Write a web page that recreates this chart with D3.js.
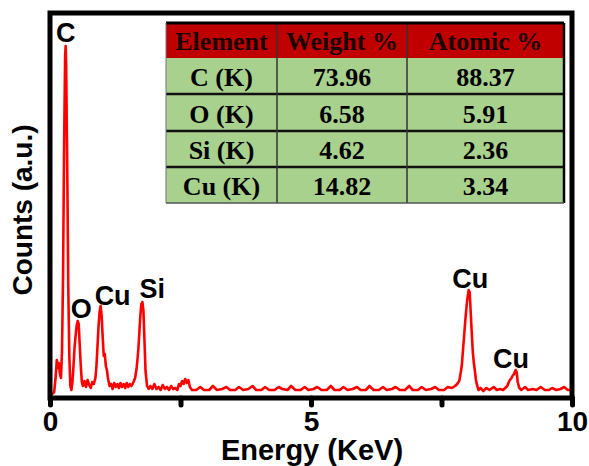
<!DOCTYPE html>
<meta charset="utf-8">
<style>
    body { margin: 0; background: #fff; overflow: hidden; }
    text { font-family: "Liberation Sans", Arial, sans-serif; font-weight: bold; }
    .tbl text { font-family: "Liberation Serif", "Times New Roman", serif; font-weight: bold; font-size: 26px; }
</style>
<svg id="canvas" width="589" height="466"></svg>
<script src="https://d3js.org/d3.v7.min.js"></script>
<script>

    // EDX spectrum, energy (keV) vs counts (a.u.)
    var energy = [0.00, 0.04, 0.08, 0.11, 0.13, 0.15, 0.17, 0.19, 0.21, 0.23, 0.25, 0.27, 0.29, 0.30, 0.31, 0.33, 0.35, 0.37, 0.39, 0.41,
                  0.43, 0.45, 0.47, 0.49, 0.51, 0.53, 0.55, 0.57, 0.59, 0.61, 0.63, 0.66, 0.69, 0.72, 0.75, 0.78, 0.81, 0.84, 0.87, 0.89,
                  0.91, 0.93, 0.95, 0.97, 0.99, 1.01, 1.03, 1.05, 1.07, 1.09, 1.11, 1.14, 1.17, 1.20, 1.23, 1.26, 1.29, 1.32, 1.35, 1.38,
                  1.41, 1.44, 1.47, 1.50, 1.53, 1.56, 1.60, 1.63, 1.66, 1.69, 1.71, 1.73, 1.75, 1.77, 1.79, 1.81, 1.83, 1.86, 1.89, 1.92,
                  1.96, 2.00, 2.04, 2.08, 2.12, 2.16, 2.20, 2.24, 2.28, 2.32, 2.36, 2.40, 2.44, 2.47, 2.50, 2.53, 2.56, 2.59, 2.62, 2.65,
                  2.68, 2.72, 2.80, 2.88, 2.95, 3.05, 3.12, 3.20, 3.30, 3.38, 3.45, 3.55, 3.62, 3.70, 3.80, 3.88, 3.95, 4.05, 4.12, 4.20,
                  4.30, 4.38, 4.45, 4.55, 4.62, 4.70, 4.80, 4.88, 4.95, 5.05, 5.12, 5.20, 5.30, 5.38, 5.45, 5.55, 5.62, 5.70, 5.80, 5.88,
                  5.95, 6.05, 6.12, 6.20, 6.30, 6.38, 6.45, 6.55, 6.62, 6.70, 6.80, 6.88, 6.95, 7.05, 7.12, 7.20, 7.30, 7.38, 7.45, 7.55,
                  7.62, 7.70, 7.76, 7.80, 7.84, 7.87, 7.89, 7.91, 7.93, 7.96, 7.99, 8.02, 8.04, 8.06, 8.08, 8.10, 8.12, 8.14, 8.16, 8.18,
                  8.21, 8.25, 8.30, 8.36, 8.42, 8.50, 8.56, 8.62, 8.68, 8.72, 8.76, 8.79, 8.81, 8.84, 8.86, 8.89, 8.92, 8.94, 8.96, 8.99,
                  9.03, 9.10, 9.16, 9.25, 9.32, 9.40, 9.48, 9.56, 9.62, 9.70, 9.78, 9.85, 9.92, 10.00];

    var counts = [1, 2, 4, 20, 36, 28, 33, 22, 18, 45, 120, 250, 340, 350, 330, 230, 110, 40, 10, 6,
                  14, 30, 48, 60, 70, 75, 72, 50, 30, 14, 10, 15, 9, 16, 11, 8, 14, 12, 18, 30,
                  50, 70, 84, 90, 80, 58, 40, 42, 30, 26, 18, 10, 12, 7, 13, 9, 12, 8, 13, 9,
                  12, 8, 13, 9, 12, 10, 14, 18, 28, 45, 62, 80, 92, 94, 85, 55, 25, 10, 7, 10,
                  7, 12, 7, 9, 6, 11, 7, 9, 6, 10, 7, 8, 6, 12, 10, 15, 12, 17, 13, 16,
                  9, 6, 6, 9, 6, 6, 10, 6, 7, 9, 6, 6, 9, 6, 7, 10, 6, 6, 9, 6,
                  6, 9, 7, 6, 10, 6, 6, 9, 6, 7, 9, 6, 6, 10, 6, 6, 9, 6, 7, 9,
                  6, 6, 10, 6, 6, 9, 6, 7, 9, 6, 6, 10, 6, 6, 9, 6, 7, 9, 6, 6,
                  9, 8, 10, 12, 15, 24, 31, 45, 58, 78, 95, 106, 104, 83, 63, 44, 33, 25, 16, 11,
                  6, 8, 5, 8, 6, 9, 6, 7, 6, 8, 10, 14, 16, 18, 20, 22, 26, 24, 14, 8,
                  6, 9, 6, 7, 6, 9, 6, 6, 8, 6, 7, 9, 6, 6];

    // peak annotations
    var peakNames = ["C", "O", "Cu", "Si", "Cu", "Cu"];
    var peakEnergy = [0.30, 0.60, 1.20, 1.96, 8.05, 8.83];
    var peakCounts = [356, 80, 93, 100, 110, 30];

    // composition table
    var tableHeader = ["Element", "Weight %", "Atomic %"];
    var elements = ["C (K)", "O (K)", "Si (K)", "Cu (K)"];
    var weightPct = ["73.96", "6.58", "4.62", "14.82"];
    var atomicPct = ["88.37", "5.91", "2.36", "3.34"];

    var xTicks = [0, 2.5, 5, 7.5, 10];

    var svg = d3.select("#canvas");
    var plotL = 50, plotR = 572, plotT = 13, plotB = 398;

    var x = d3.scaleLinear().domain([0, 10]).range([plotL, plotR]);
    var y = d3.scaleLinear().domain([0, 385]).range([plotB, plotT]);

    var spectrum = energy.map(function(e, i) { return [e, counts[i]]; });

    var line = d3.line()
                 .x(function(d) { return x(d[0]); })
                 .y(function(d) { return y(d[1]) - 2; });

    svg.append("path")
       .datum(spectrum)
       .attr("fill", "none")
       .attr("stroke", "#ff0000")
       .attr("stroke-width", 2.6)
       .attr("stroke-linejoin", "round")
       .attr("d", line);

    // frame
    svg.append("rect")
       .attr("x", plotL).attr("y", plotT)
       .attr("width", plotR - plotL).attr("height", plotB - plotT)
       .attr("fill", "none")
       .attr("stroke", "#000")
       .attr("stroke-width", 5);

    var xAxis = d3.axisBottom(x)
                  .tickValues(xTicks)
                  .tickSize(7)
                  .tickPadding(6)
                  .tickFormat(function(d) { return d % 5 === 0 ? d : ""; });

    var gx = svg.append("g")
                .attr("transform", "translate(0," + plotB + ")")
                .call(xAxis);
    gx.select(".domain").remove();
    gx.selectAll(".tick line")
      .attr("stroke", "#000")
      .attr("stroke-width", 5)
      .attr("stroke-linecap", "round");
    gx.selectAll(".tick text")
      .attr("fill", "#000")
      .style("font-size", "28px")
      .style("font-family", "'Liberation Sans', Arial, sans-serif")
      .style("font-weight", "bold");

    svg.append("text")
       .attr("x", 312).attr("y", 460)
       .attr("text-anchor", "middle")
       .style("font-size", "29px")
       .text("Energy (KeV)");

    svg.append("text")
       .attr("transform", "translate(32,210) rotate(-90)")
       .attr("text-anchor", "middle")
       .style("font-size", "28px")
       .text("Counts (a.u.)");

    svg.append("g").selectAll("text")
       .data(peakNames)
       .enter().append("text")
       .attr("x", function(d, i) { return x(peakEnergy[i]); })
       .attr("y", function(d, i) { return y(peakCounts[i]); })
       .attr("text-anchor", "middle")
       .style("font-size", "27px")
       .text(function(d) { return d; });

    // table inset
    var colX = [166, 277, 407, 564];
    var rowY = [23, 58, 94, 131, 167, 203];
    var rows = [tableHeader].concat(elements.map(function(e, i) { return [e, weightPct[i], atomicPct[i]]; }));

    var tbl = svg.append("g").attr("class", "tbl");
    rows.forEach(function(r, ri) {
        r.forEach(function(cell, ci) {
            tbl.append("rect")
               .attr("x", colX[ci]).attr("y", rowY[ri])
               .attr("width", colX[ci + 1] - colX[ci])
               .attr("height", rowY[ri + 1] - rowY[ri])
               .attr("fill", ri === 0 ? "#c00000" : "#a9d18e");
            tbl.append("text")
               .attr("x", (colX[ci] + colX[ci + 1]) / 2)
               .attr("y", rowY[ri + 1] - 8)
               .attr("text-anchor", "middle")
               .attr("fill", ri === 0 ? "#1a0000" : "#000")
               .text(cell);
        });
    });
    // grid lines of the table
    rowY.slice(2, 5).forEach(function(yy) {
        tbl.append("line").attr("x1", colX[0]).attr("x2", colX[3]).attr("y1", yy).attr("y2", yy)
           .attr("stroke", "#111").attr("stroke-width", 2.5);
    });
    colX.slice(1, 3).forEach(function(xx) {
        tbl.append("line").attr("x1", xx).attr("x2", xx).attr("y1", rowY[0]).attr("y2", rowY[5])
           .attr("stroke", "#333").attr("stroke-width", 1.5);
    });
    tbl.append("line").attr("x1", colX[0]).attr("x2", colX[3]).attr("y1", rowY[0]).attr("y2", rowY[0])
       .attr("stroke", "#000").attr("stroke-width", 3);
    tbl.append("line").attr("x1", colX[3]).attr("x2", colX[3]).attr("y1", rowY[0]).attr("y2", rowY[5])
       .attr("stroke", "#000").attr("stroke-width", 2.5);
    tbl.append("line").attr("x1", colX[0]).attr("x2", colX[0]).attr("y1", rowY[0]).attr("y2", rowY[5])
       .attr("stroke", "#777").attr("stroke-width", 1);
    tbl.append("line").attr("x1", colX[0]).attr("x2", colX[3]).attr("y1", rowY[5]).attr("y2", rowY[5])
       .attr("stroke", "#555").attr("stroke-width", 1.5);

</script>
